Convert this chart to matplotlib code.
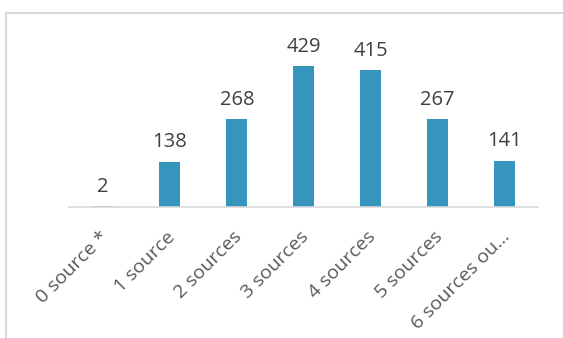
import matplotlib.pyplot as plt
import matplotlib.transforms as mtransforms
from matplotlib.patches import Rectangle

categories = ["0 source *", "1 source", "2 sources", "3 sources",
              "4 sources", "5 sources", "6 sources ou…"]
counts = [2, 138, 268, 429, 415, 267, 141]

BAR_COLOR = "#3595BC"
TEXT_COLOR = "#404040"
TICK_COLOR = "#595959"
LINE_COLOR = "#D9D9D9"

plt.rcParams["font.family"] = ["Open Sans", "DejaVu Sans"]

fig = plt.figure(figsize=(5.63, 3.38), dpi=100)
ax = fig.add_axes([0.1234, 0.3876, 0.832, 0.5325])

x = range(len(categories))
bars = ax.bar(x, counts, width=0.31, color=BAR_COLOR)
for bar, v in zip(bars, counts):
    ax.text(bar.get_x() + bar.get_width() / 2, v + 28, str(v),
            ha="center", va="bottom", fontsize=14.5, color=TEXT_COLOR)

ax.set_xlim(-0.5, len(categories) - 0.5)
ax.set_ylim(0, 547)
ax.set_xticks(list(x))
ax.set_xticklabels(categories, rotation=45, ha="right", rotation_mode="anchor",
                   fontsize=14, color=TICK_COLOR)
ax.tick_params(axis="x", length=0, pad=15)
# nudge the slanted labels a little to the left
shift = mtransforms.ScaledTranslation(-4 / 100, 0, fig.dpi_scale_trans)
for lbl in ax.get_xticklabels():
    lbl.set_transform(lbl.get_transform() + shift)
ax.set_yticks([])
for side in ("left", "right", "top"):
    ax.spines[side].set_visible(False)
ax.spines["bottom"].set_color(LINE_COLOR)
ax.spines["bottom"].set_linewidth(1.2)

# chart area border, running off the right and bottom edges
fig.patches.append(Rectangle((6 / 563, -0.1), 1.2, 1 - 13 / 338 + 0.1,
                             transform=fig.transFigure, fill=False,
                             edgecolor=LINE_COLOR, linewidth=1.5))

fig.savefig("out.png", dpi=100)
